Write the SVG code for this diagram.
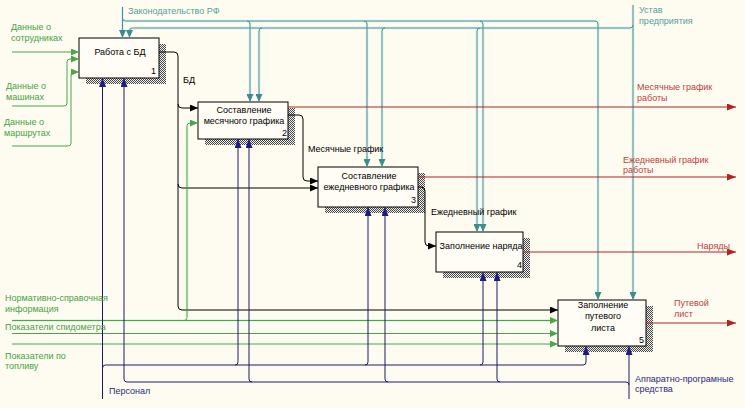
<svg xmlns="http://www.w3.org/2000/svg" width="745" height="408" viewBox="0 0 745 408">
<style>
.t{font-family:"Liberation Sans",Arial,sans-serif;font-size:9px}
.m{text-anchor:middle}
.box{fill:#FFFDF6;stroke:#000;stroke-width:1}
.sh{fill:url(#hatch)}
.c{fill:none;stroke-width:1}
.teal{stroke:#4A9090}
.halo{fill:none;stroke:#E0F3F0;stroke-width:3}
.ghalo{fill:none;stroke:#E2F5DC;stroke-width:3}
.grn{stroke:#4AA64A}
.red{stroke:#B22424}
.blk{stroke:#000}
.nav{stroke:#1C1C66}
.lt{fill:#559F9F}
.lg{fill:#45A345}
.lr{fill:#C04040}
.ln{fill:#2A2A80}
</style>
<defs>
<pattern id="hatch" width="2" height="2" patternUnits="userSpaceOnUse"><rect width="2" height="2" fill="#F4F4F0"/><rect width="1" height="1" fill="#444"/><rect x="1" y="1" width="1" height="1" fill="#444"/></pattern>
<marker id="aBk" markerUnits="userSpaceOnUse" markerWidth="8" markerHeight="7" refX="8" refY="3.5" orient="auto"><path d="M0,0L8,3.5L0,7z" fill="#000"/></marker>
<marker id="aGr" markerUnits="userSpaceOnUse" markerWidth="8" markerHeight="7" refX="8" refY="3.5" orient="auto"><path d="M0,0L8,3.5L0,7z" fill="#4AA64A"/></marker>
<marker id="aTl" markerUnits="userSpaceOnUse" markerWidth="8" markerHeight="7" refX="8" refY="3.5" orient="auto"><path d="M0,0L8,3.5L0,7z" fill="#3F8C8C"/></marker>
<marker id="aRd" markerUnits="userSpaceOnUse" markerWidth="9" markerHeight="7" refX="9" refY="3.5" orient="auto"><path d="M0,0L9,3.5L0,7z" fill="#B22424"/></marker>
<marker id="aNv" markerUnits="userSpaceOnUse" markerWidth="9" markerHeight="7" refX="9" refY="3.5" orient="auto"><path d="M0,0L9,3.5L0,7z" fill="#1C1C88"/></marker>
</defs>
<rect width="745" height="408" fill="#FEFBF0"/>

<g id="node1">
<rect class="sh" x="86" y="44" width="80" height="40"/>
<rect class="box" x="79" y="38" width="80" height="40"/>
<text class="t m" x="120" y="55">Работа с БД</text>
<text class="t" x="151" y="74">1</text>
</g>
<g id="node2">
<rect class="sh" x="205" y="108" width="90" height="37"/>
<rect class="box" x="198" y="102" width="90" height="37"/>
<text class="t m" x="244" y="113">Составление</text>
<text class="t m" x="244" y="124">месячного графика</text>
<text class="t" x="282" y="136">2</text>
</g>
<g id="node3">
<rect class="sh" x="325" y="173" width="100" height="40"/>
<rect class="box" x="318" y="167" width="100" height="40"/>
<text class="t m" x="369" y="179">Составление</text>
<text class="t m" x="369" y="190">ежедневного графика</text>
<text class="t" x="411" y="203">3</text>
</g>
<g id="node4">
<rect class="sh" x="443" y="238" width="87" height="40"/>
<rect class="box" x="436" y="232" width="87" height="40"/>
<text class="t m" x="481" y="249">Заполнение наряда</text>
<text class="t" x="517" y="268">4</text>
</g>
<g id="node5">
<rect class="sh" x="565" y="306" width="88" height="46"/>
<rect class="box" x="558" y="300" width="88" height="46"/>
<text class="t m" x="603" y="308">Заполнение</text>
<text class="t m" x="603" y="319">путевого</text>
<text class="t m" x="603" y="331">листа</text>
<text class="t" x="639" y="343">5</text>
</g>

<g id="connectors">
<g class="halo">
<path d="M122.5,7V34M122.5,18Q122.5,21 125.5,21H595Q598,21 598,24V296M247,21Q250,21 250,24V98M364,21Q367,21 367,24V163M480,21Q483,21 483,24V228"/>
<path d="M633,5V296M633,25Q633,28 630,28H132.5Q129.5,28 129.5,31V34M385,28Q382,28 382,31V163M480,28Q477,28 477,31V228M262,28Q259,28 259,31V98"/>
</g>
<path class="ghalo" d="M12,320.5H550M187,317V127"/>
<g class="c teal" marker-end="url(#aTl)">
<path d="M122.5,7V38"/>
<path d="M122.5,18Q122.5,21 125.5,21H595Q598,21 598,24V300"/>
<path d="M247,21Q250,21 250,24V102"/>
<path d="M364,21Q367,21 367,24V167"/>
<path d="M480,21Q483,21 483,24V232"/>
<path d="M633,5V300"/>
<path d="M633,25Q633,28 630,28H132.5Q129.5,28 129.5,31V38"/>
<path d="M385,28Q382,28 382,31V167"/>
<path d="M480,28Q477,28 477,31V232"/>
<path d="M262,28Q259,28 259,31V102"/>
</g>
<g class="c red" marker-end="url(#aRd)">
<path d="M288,107H736"/>
<path d="M418,177H736"/>
<path d="M523,252H736"/>
<path d="M646,323H736"/>
</g>
<g class="c blk" marker-end="url(#aBk)">
<path d="M159,52H174Q178,52 178,56V306Q178,310 182,310H558"/>
<path d="M178,104Q178,108 182,108H198"/>
<path d="M178,184Q178,188 182,188H318"/>
<path d="M288,115H299Q303,115 303,119V177Q303,181 307,181H318"/>
<path d="M418,187H421Q425,187 425,191V242Q425,246 429,246H436"/>
</g>
<g class="c grn" marker-end="url(#aGr)">
<path d="M12,52H79"/>
<path d="M12,106H64Q67,106 67,103V62Q67,59 70,59H79"/>
<path d="M12,146H68Q71,146 71,143V75Q71,72 74,72H79"/>
<path d="M12,320.5H558"/>
<path d="M184,320.5Q187,320.5 187,317.5V126Q187,123 190,123H198"/>
<path d="M12,333.5H558"/>
<path d="M12,344H558"/>
</g>
<g class="c nav" marker-end="url(#aNv)">
<path d="M102.5,399V78"/>
<path d="M102.5,368Q102.5,365 105.5,365H583Q586,365 586,362V346"/>
<path d="M235,365Q238,365 238,362V139"/>
<path d="M365,365Q368,365 368,362V207"/>
<path d="M480,365Q483,365 483,362V272"/>
<path d="M629,399V346"/>
<path d="M629,385Q629,382 626,382H127Q124,382 124,379V78"/>
<path d="M500,382Q497,382 497,379V272"/>
<path d="M388,382Q385,382 385,379V207"/>
<path d="M252,382Q249,382 249,379V139"/>
</g>
</g>

<g id="labels">
<text class="t lt" x="128" y="14">Законодательство РФ</text>
<text class="t lt" x="639" y="13">Устав</text>
<text class="t lt" x="639" y="24">предприятия</text>
<text class="t lg" x="11" y="30">Данные о</text>
<text class="t lg" x="11" y="41">сотрудниках</text>
<text class="t lg" x="6" y="89">Данные о</text>
<text class="t lg" x="6" y="100">машинах</text>
<text class="t lg" x="4" y="125">Данные о</text>
<text class="t lg" x="4" y="136">маршрутах</text>
<text class="t lg" x="5" y="301">Нормативно-справочная</text>
<text class="t lg" x="5" y="312">информация</text>
<text class="t lg" x="5" y="330">Показатели спидометра</text>
<text class="t lg" x="5" y="359">Показатели по</text>
<text class="t lg" x="5" y="369">топливу</text>
<text class="t" x="183" y="83">БД</text>
<text class="t" x="308" y="152">Месячные график</text>
<text class="t" x="431" y="215">Ежедневный график</text>
<text class="t lr" x="637" y="90">Месячные график</text>
<text class="t lr" x="637" y="101">работы</text>
<text class="t lr" x="623" y="163">Ежедневный график</text>
<text class="t lr" x="623" y="173">работы</text>
<text class="t lr" x="697" y="249">Наряды</text>
<text class="t lr" x="674" y="306">Путевой</text>
<text class="t lr" x="674" y="317">лист</text>
<text class="t ln" x="109" y="394">Персонал</text>
<text class="t ln" x="635" y="382">Аппаратно-програмные</text>
<text class="t ln" x="635" y="392">средства</text>
</g>
</svg>
